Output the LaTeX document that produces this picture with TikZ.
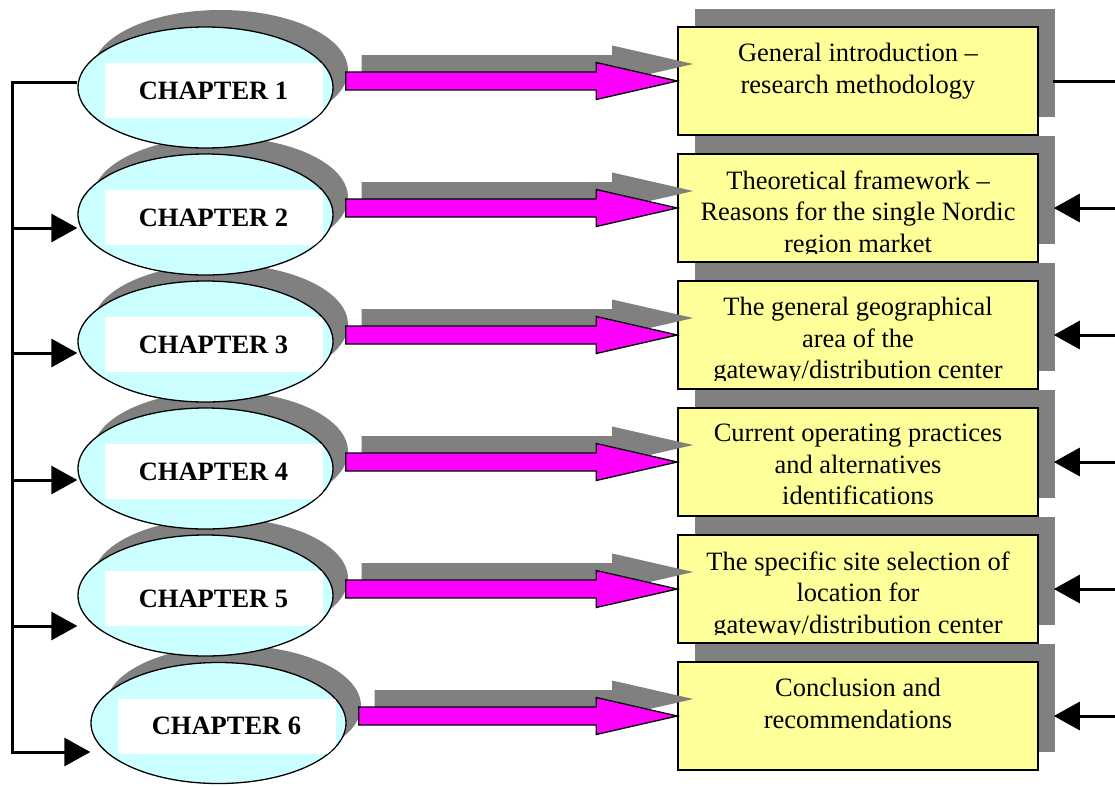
\documentclass[tikz,border=0pt]{standalone}
\usepackage{fontspec}
\setmainfont{Liberation Serif}
\usetikzlibrary{shapes.geometric,shadows,arrows.meta,calc}

\definecolor{shadowgray}{HTML}{808080}
\definecolor{ovalfill}{HTML}{CCFFFF}
\definecolor{boxfill}{HTML}{FFFF99}
\definecolor{arrowpink}{HTML}{FF00FF}

\tikzset{
  oval/.style={ellipse, draw=black, line width=1.3pt, fill=ovalfill,
    minimum width=255pt, minimum height=121pt, inner sep=0pt,
    drop shadow={shadow xshift=15pt, shadow yshift=17pt, fill=shadowgray, opacity=1}},
  chaptag/.style={fill=white, minimum width=218pt, minimum height=55pt, inner sep=0pt,
    font=\fontsize{26.5}{31.5}\selectfont\bfseries},
  stagebox/.style={rectangle, draw=black, line width=1.6pt, fill=boxfill,
    minimum width=360pt, minimum height=108pt, inner sep=0pt,
    drop shadow={shadow xshift=17pt, shadow yshift=18pt, fill=shadowgray, opacity=1}},
  stagetext/.style={anchor=north, align=center, inner sep=0pt,
    font=\fontsize{26.5}{31.5}\selectfont},
  link/.style={line width=3pt, line join=miter},
  feed/.style={link, -{Triangle[length=26pt,width=28pt]}},
  blockarrow/.style={fill=arrowpink, draw=black, line width=1.3pt, line join=miter},
  blockshadow/.style={fill=shadowgray},
}

% block arrow from the start point #2 to the tip #3 (body at the height of the tip),
% moved by the offset #4
\newcommand\flowarrow[4]{%
  \path[#1] let \p1=($(#2)+#4$), \p2=($(#3)+#4$) in
    (\x1,\y2+9pt) -- (\x2-81pt,\y2+9pt) -- (\x2-81pt,\y2+18.5pt) -- (\x2,\y2)
    -- (\x2-81pt,\y2-18.5pt) -- (\x2-81pt,\y2-9pt) -- (\x1,\y2-9pt) -- cycle;}

% chapter tag kept inside its oval
\newcommand\chaptertag[3]{%
  \begin{scope}
    \clip (#1.center) ellipse [x radius=126.8, y radius=59.8];
    \node[chaptag] (#2) at ($(#1.center)+(8,3)$) {#3};
  \end{scope}}

% clipped text block inside a stage box
\newcommand\stagecontent[3]{%
  \begin{scope}
    \clip (#1.north west) rectangle ($(#1.south east)+(0,-9)$);
    \node[stagetext] (#2) at ($(#1.north)+(0,17)$) {#3};
  \end{scope}}

\begin{document}
\begin{tikzpicture}[x=1pt,y=-1pt]
\useasboundingbox (0,0) rectangle (1115,785);

% chapter ovals, lowest first so each oval lies over the shadow of the next one
\node[oval] (ch6) at (218.5,723) {};
\node[oval] (ch5) at (205.5,595.5) {};
\node[oval] (ch4) at (205.5,468.5) {};
\node[oval] (ch3) at (205.5,341.5) {};
\node[oval] (ch2) at (205.5,214.5) {};
\node[oval] (ch1) at (205.5,87.5) {};

\chaptertag{ch1}{l1}{CHAPTER 1}
\chaptertag{ch2}{l2}{CHAPTER 2}
\chaptertag{ch3}{l3}{CHAPTER 3}
\chaptertag{ch4}{l4}{CHAPTER 4}
\chaptertag{ch5}{l5}{CHAPTER 5}
\chaptertag{ch6}{l6}{CHAPTER 6}

% content boxes
\node[stagebox] (b1) at (858,81) {};
\node[stagebox] (b2) at (858,208) {};
\node[stagebox] (b3) at (858,335) {};
\node[stagebox] (b4) at (858,462) {};
\node[stagebox] (b5) at (858,589) {};
\node[stagebox] (b6) at (858,716) {};

\stagecontent{b1}{t1}{General introduction \textendash\\research methodology}
\stagecontent{b2}{t2}{Theoretical framework \textendash\\Reasons for the single Nordic\\region market}
\stagecontent{b3}{t3}{The general geographical\\area of the\\gateway/distribution center}
\stagecontent{b4}{t4}{Current operating practices\\and alternatives\\identifications}
\stagecontent{b5}{t5}{The specific site selection of\\location for\\gateway/distribution center}
\stagecontent{b6}{t6}{Conclusion and\\recommendations}

% block arrows from each chapter to its box
\foreach \i in {1,...,6}{
  \coordinate (a\i) at ($(ch\i.east |- b\i.west)+(12,0)$);
  \flowarrow{blockshadow}{a\i}{b\i.west}{(16,-17)}
  \flowarrow{blockarrow}{a\i}{b\i.west}{(0,0)}
}

% left feedback bracket
\coordinate (top) at (12,82);
\coordinate (bot) at (12,752);
\coordinate (s2) at (12,228);
\coordinate (s3) at (12,353);
\coordinate (s4) at (12,480);
\coordinate (s5) at (12,626);
\draw[feed] (ch1.west |- top) -- (top) -- (bot) -- (bot -| ch6.west);
\draw[feed] (s2) -- (s2 -| ch2.west);
\draw[feed] (s3) -- (s3 -| ch3.west);
\draw[feed] (s4) -- (s4 -| ch4.west);
\draw[feed] (s5) -- (s5 -| ch5.west);

% right-hand links
\coordinate (r1) at (1115,81);
\coordinate (r2) at (1115,208);
\coordinate (r3) at (1115,335);
\coordinate (r4) at (1115,462);
\coordinate (r5) at (1115,589);
\coordinate (r6) at (1115,716);
\draw[link] ([xshift=14pt]b1.east) -- (r1);
\draw[feed] (r2) -- ([xshift=15pt]b2.east);
\draw[feed] (r3) -- ([xshift=15pt]b3.east);
\draw[feed] (r4) -- ([xshift=15pt]b4.east);
\draw[feed] (r5) -- ([xshift=15pt]b5.east);
\draw[feed] (r6) -- ([xshift=15pt]b6.east);
\end{tikzpicture}
\end{document}
